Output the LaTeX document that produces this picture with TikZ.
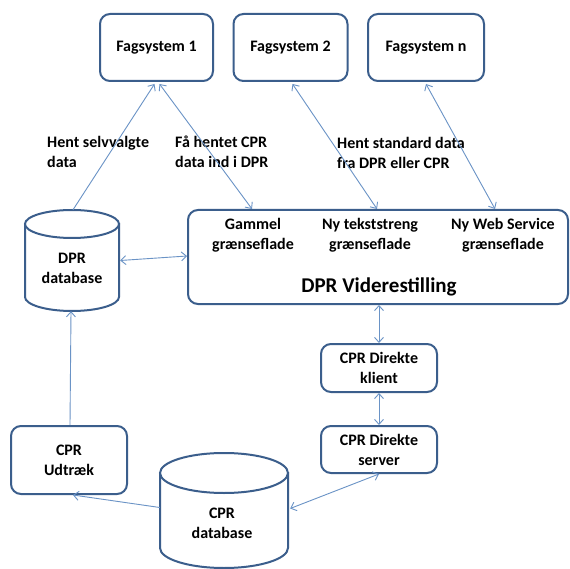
\documentclass[tikz,border=0pt]{standalone}
\usepackage{fontspec}
\setmainfont{Carlito}
\usetikzlibrary{arrows.meta}
\definecolor{boxc}{HTML}{3B5E8C}
\definecolor{linec}{HTML}{6A93C6}
\newcommand{\dtxt}{\fontsize{16}{20}\selectfont\bfseries}
\newcommand{\dbig}{\fontsize{21}{25}\selectfont\bfseries}
\begin{document}
\begin{tikzpicture}[x=1pt,y=-1pt,
  box/.style={draw=boxc, line width=2pt, rounded corners=10pt, fill=white, inner sep=0pt, font=\dtxt, align=center},
  lbl/.style={inner sep=0pt, font=\dtxt},
  ghost/.style={inner sep=0pt},
  conn/.style={draw=linec, line width=0.9pt},
  both/.style={conn, {Straight Barb[length=5pt,width=9pt]}-{Straight Barb[length=5pt,width=9pt]}},
  one/.style={conn, -{Straight Barb[length=5pt,width=9pt]}},
  cyl/.style={draw=boxc, line width=2pt, fill=white}
]
\fill[white] (0,0) rectangle (570,569);
\useasboundingbox (0,0) rectangle (570,569);

% top boxes
\node[box, minimum width=113pt, minimum height=67pt] (f1) at (156.5,47.5) {Fagsystem 1};
\node[box, minimum width=114pt, minimum height=67pt] (f2) at (290.5,47.5) {Fagsystem 2};
\node[box, minimum width=116pt, minimum height=67pt] (f3) at (426,47.5) {Fagsystem n};

% DPR Viderestilling
\node[box, minimum width=380pt, minimum height=94pt] (dpr) at (378,257) {};
\node[lbl, align=center] (gammel) at (253,235) {Gammel\\grænseflade};
\node[lbl, align=center] (tekst) at (370,235) {Ny tekststreng\\grænseflade};
\node[lbl, align=center] (web) at (503,235) {Ny Web Service\\grænseflade};
\node[inner sep=0pt, font=\dbig] (dprt) at (379,287) {DPR Viderestilling};

% CPR Direkte
\node[box, minimum width=116pt, minimum height=48pt] (klient) at (379,368) {CPR Direkte\\klient};
\node[box, minimum width=116pt, minimum height=47pt] (server) at (379,449.5) {CPR Direkte\\server};

% CPR Udtraek
\node[box, minimum width=116pt, minimum height=68pt] (udtraek) at (69,460) {CPR\\Udtræk};

% DPR database cylinder
\node[ghost, minimum width=94pt, minimum height=101pt] (dprdb) at (72,260.5) {};
\draw[cyl] (25,224) -- (25,297) .. controls (25,304.7) and (46,311) .. (72,311) .. controls (98,311) and (119,304.7) .. (119,297) -- (119,224) -- cycle;
\draw[cyl] (72,224) ellipse [x radius=47, y radius=14];
\node[lbl, align=center] (dprdbt) at (72,268) {DPR\\database};

% CPR database cylinder
\node[ghost, minimum width=128pt, minimum height=115pt] (cprdb) at (224,510.5) {};
\draw[cyl] (160,473) -- (160,548) .. controls (160,559) and (188.7,568) .. (224,568) .. controls (259.3,568) and (288,559) .. (288,548) -- (288,473) -- cycle;
\draw[cyl] (224,473) ellipse [x radius=64, y radius=20];
\node[lbl, align=center] (cprdbt) at (222,523.5) {CPR\\database};

% edge labels
\node[lbl, align=left, anchor=west] (l1) at (47,152) {Hent selvvalgte\\data};
\node[lbl, align=left, anchor=west] (l2) at (175,152) {Få hentet CPR\\data ind i DPR};
\node[lbl, align=left, anchor=west] (l3) at (337,153) {Hent standard data\\fra DPR eller CPR};

% connectors
\draw[one] ([xshift=1pt]dprdb.north) -- ([xshift=-2pt,yshift=-2pt]f1.south);
\draw[both] ([xshift=3pt,yshift=-2pt]f1.south) -- ([xshift=65pt]dpr.north west);
\draw[both] ([xshift=2pt,yshift=-2pt]f2.south) -- ([xshift=190pt]dpr.north west);
\draw[both] ([yshift=-2pt]f3.south) -- ([xshift=308pt]dpr.north west);
\draw[both] ([xshift=1pt]dprdb.east) -- ([yshift=1pt]dpr.west);
\draw[both] (klient.north |- dpr.south) -- (klient.north);
\draw[both] (klient.south) -- (server.north);
\draw[both] (server.south) -- ([xshift=2pt,yshift=2pt]cprdb.east);
\draw[one] ([yshift=3pt]cprdb.west) -- ([xshift=4pt]udtraek.south);
\draw[one] ([xshift=1pt]udtraek.north) -- ([xshift=-1pt]dprdb.south);
\end{tikzpicture}
\end{document}
